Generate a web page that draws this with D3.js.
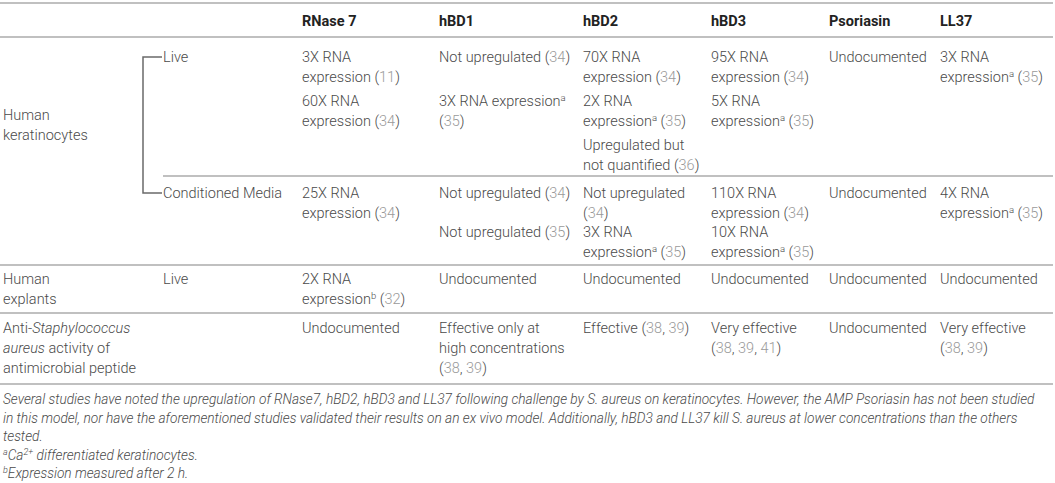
<!DOCTYPE html>
<html>
<head>
<meta charset="utf-8">
<script src="https://cdn.jsdelivr.net/npm/d3@7"></script>
<style>
    body { margin: 0; background: #fff; }
    svg text {
        font-family: Roboto, "Liberation Sans", sans-serif;
        font-weight: 300;
        font-size: 14.5px;
        fill: #4a4a4a;
    }
</style>
</head>
<body>
<svg id="chart" width="1055" height="483"></svg>
<script>
// Column headers (antimicrobial peptides)
const columns = ['RNase 7', 'hBD1', 'hBD2', 'hBD3', 'Psoriasin', 'LL37'];

// Row keys, group labels and sub labels
const rowKeys = ['live', 'conditioned', 'explants', 'activity'];
const groupLabels = [
    { row: 'keratinocytes', lines: ['Human', 'keratinocytes'] },
    { row: 'explants', lines: ['Human', 'explants'] },
    { row: 'activity', lines: ['Anti-*Staphylococcus*', '*aureus* activity of', 'antimicrobial peptide'] }
];
const subLabels = [
    { row: 'live', text: 'Live' },
    { row: 'conditioned', text: 'Conditioned Media' },
    { row: 'explants', text: 'Live' }
];

// Cell contents: per column a list of paragraphs, each a list of lines
// ^a = superscript, (..) = references
const liveCells = [
    [['3X RNA', 'expression (11)'], ['60X RNA', 'expression (34)']],
    [['Not upregulated (34)'], ['3X RNA expression^a', '(35)']],
    [['70X RNA', 'expression (34)'], ['2X RNA', 'expression^a (35)'], ['Upregulated but', 'not quantified (36)']],
    [['95X RNA', 'expression (34)'], ['5X RNA', 'expression^a (35)']],
    [['Undocumented']],
    [['3X RNA', 'expression^a (35)']]
];
const conditionedCells = [
    [['25X RNA', 'expression (34)']],
    [['Not upregulated (34)'], ['Not upregulated (35)']],
    [['Not upregulated', '(34)'], ['3X RNA', 'expression^a (35)']],
    [['110X RNA', 'expression (34)'], ['10X RNA', 'expression^a (35)']],
    [['Undocumented']],
    [['4X RNA', 'expression^a (35)']]
];
const explantCells = [
    [['2X RNA', 'expression^b (32)']],
    [['Undocumented']],
    [['Undocumented']],
    [['Undocumented']],
    [['Undocumented']],
    [['Undocumented']]
];
const activityCells = [
    [['Undocumented']],
    [['Effective only at', 'high concentrations', '(38, 39)']],
    [['Effective (38, 39)']],
    [['Very effective', '(38, 39, 41)']],
    [['Undocumented']],
    [['Very effective', '(38, 39)']]
];

const footnotes = [
    'Several studies have noted the upregulation of RNase7, hBD2, hBD3 and LL37 following challenge by S. aureus on keratinocytes. However, the AMP Psoriasin has not been studied',
    'in this model, nor have the aforementioned studies validated their results on an ex vivo model. Additionally, hBD3 and LL37 kill S. aureus at lower concentrations than the others',
    'tested.',
    '^aCa^{2+} differentiated keratinocytes.',
    '^bExpression measured after 2 h.'
];

// ---- layout ----
const lineH = 20;
const baseOff = 5;           // text centre -> baseline
const refColor = '#9a9a9a';
const ruleColor = '#ababab';

const x = d3.scaleOrdinal()
    .domain(['group', 'sub', ...columns])
    .range([3, 163, 302, 439, 583, 711, 829, 940]);

// y of the first text line centre in each row
const y = d3.scaleOrdinal()
    .domain(['header', ...rowKeys, 'notes'])
    .range([21, 57, 193, 279, 328, 399]);

// paragraph slot step inside a row
const slotStep = d3.scaleOrdinal().domain(rowKeys).range([44, 39, 40, 40]);

const rules = [
    { y: 3, x0: 0 },
    { y: 37, x0: 0 },
    { y: 176, x0: 163 },
    { y: 265, x0: 0 },
    { y: 313, x0: 0 },
    { y: 384, x0: 0 }
];

const svg = d3.select('#chart');
const W = +svg.attr('width');

svg.append('g')
    .selectAll('line')
    .data(rules)
    .join('line')
    .attr('x1', d => d.x0)
    .attr('x2', W - 2)
    .attr('y1', d => d.y)
    .attr('y2', d => d.y)
    .attr('stroke', ruleColor)
    .attr('stroke-width', 1.5);

// rich text: ^a superscript, ^{..} superscript, *..* italic, (..) refs in grey
function richText(sel, str, italicAll, supSize) {
    const parts = str.split(/(\^\{[^}]*\}|\^[a-z]|\*[^*]+\*|\([^)]*\))/).filter(s => s);
    let pending = 0;
    const span = (t) => {
        const s = sel.append('tspan').text(t);
        if (pending) { s.attr('dy', pending); pending = 0; }
        if (italicAll) s.style('font-style', 'italic');
        return s;
    };
    parts.forEach(p => {
        if (p[0] === '^') {
            const t = p[1] === '{' ? p.slice(2, -1) : p.slice(1);
            const s = span(t).style('font-size', supSize || '9.5px');
            s.attr('dy', (+s.attr('dy') || 0) - 5);
            pending = 5;
        } else if (p[0] === '*') {
            span(p.slice(1, -1)).style('font-style', 'italic');
        } else if (p[0] === '(') {
            p.split(/(\d+)/).filter(s => s).forEach(q => {
                const s = span(q);
                if (/^\d+$/.test(q)) s.style('fill', refColor);
            });
        } else {
            span(p);
        }
    });
}

function drawLines(g, x0, yc, lines, italicAll) {
    lines.forEach((ln, i) => {
        const t = g.append('text')
            .attr('x', x0)
            .attr('y', yc + i * lineH + baseOff);
        richText(t, ln, italicAll);
    });
}

// header
svg.append('g')
    .selectAll('text')
    .data(columns)
    .join('text')
    .attr('x', d => x(d))
    .attr('y', y('header') + baseOff)
    .style('font-weight', 700)
    .style('fill', '#222')
    .text(d => d);

// group labels
const gLab = svg.append('g');
groupLabels.forEach(d => {
    let yc;
    if (d.row === 'keratinocytes') {
        // centred between the Live and Conditioned labels
        yc = (y('live') + y('conditioned')) / 2 - lineH * (d.lines.length - 1) / 2;
    } else {
        yc = y(d.row);
    }
    drawLines(gLab, x('group'), yc, d.lines);
});

// sub labels
const sLab = svg.append('g');
subLabels.forEach(d => drawLines(sLab, x('sub'), y(d.row), [d.text]));

// bracket joining Live and Conditioned Media
const bx = x('sub') - 20;
svg.append('path')
    .attr('d', d3.line()([
        [x('sub') - 1, y('live')], [bx, y('live')],
        [bx, y('conditioned')], [x('sub') - 1, y('conditioned')]
    ]))
    .attr('fill', 'none')
    .attr('stroke', '#6a6a6a')
    .attr('stroke-width', 1.5);

// cells
const cellRows = { live: liveCells, conditioned: conditionedCells, explants: explantCells, activity: activityCells };
const body = svg.append('g');
rowKeys.forEach(rk => {
    cellRows[rk].forEach((paras, ci) => {
        paras.forEach((lines, pi) => {
            drawLines(body, x(columns[ci]), y(rk) + pi * slotStep(rk), lines);
        });
    });
});

// footnotes
const notes = svg.append('g');
footnotes.forEach((ln, i) => {
    const t = notes.append('text')
        .attr('x', 3)
        .attr('y', y('notes') + i * 18.5 + baseOff)
        .style('font-size', '13.7px');
    richText(t, ln, true, '9px');
});
</script>
</body>
</html>
